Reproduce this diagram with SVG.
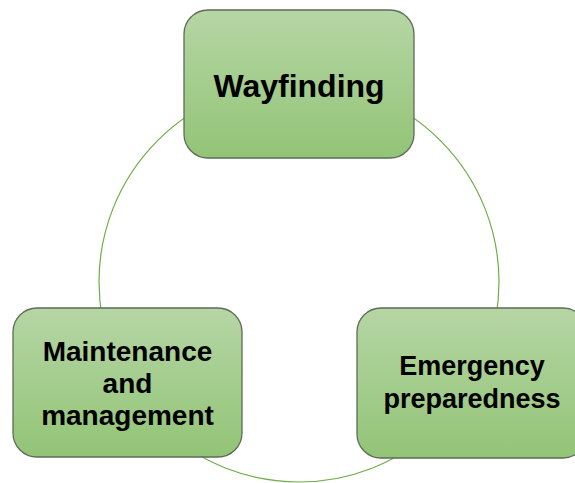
<svg xmlns="http://www.w3.org/2000/svg" width="575" height="483" viewBox="0 0 575 483">
<defs>
<linearGradient id="g" x1="0" y1="0" x2="0" y2="1">
<stop offset="0" stop-color="#B6D6A5"/>
<stop offset="1" stop-color="#92C476"/>
</linearGradient>
<style>
.box{fill:url(#g);stroke:#5E6B58;stroke-width:1.3}
.t{font-family:"Liberation Sans",Arial,sans-serif;font-weight:bold;fill:#000;text-anchor:middle}
.c{fill:none;stroke:#70AD47;stroke-width:1.2}
</style>
</defs>
<rect width="575" height="483" fill="#fff"/>
<g id="connectors">
<circle class="c" cx="299" cy="282" r="200"/>
</g>
<g id="wayfinding">
<rect class="box" x="184" y="10" width="230" height="148" rx="24"/>
<text class="t" x="299" y="97" font-size="32">Wayfinding</text>
</g>
<g id="maintenance">
<rect class="box" x="13" y="308" width="229" height="149" rx="24"/>
<text class="t" font-size="28"><tspan x="127.5" y="361">Maintenance</tspan><tspan x="127.5" y="393">and</tspan><tspan x="127.5" y="425">management</tspan></text>
</g>
<g id="emergency">
<rect class="box" x="357" y="308" width="230" height="150" rx="24"/>
<text class="t" font-size="27"><tspan x="472" y="375">Emergency</tspan><tspan x="472" y="408">preparedness</tspan></text>
</g>
</svg>
